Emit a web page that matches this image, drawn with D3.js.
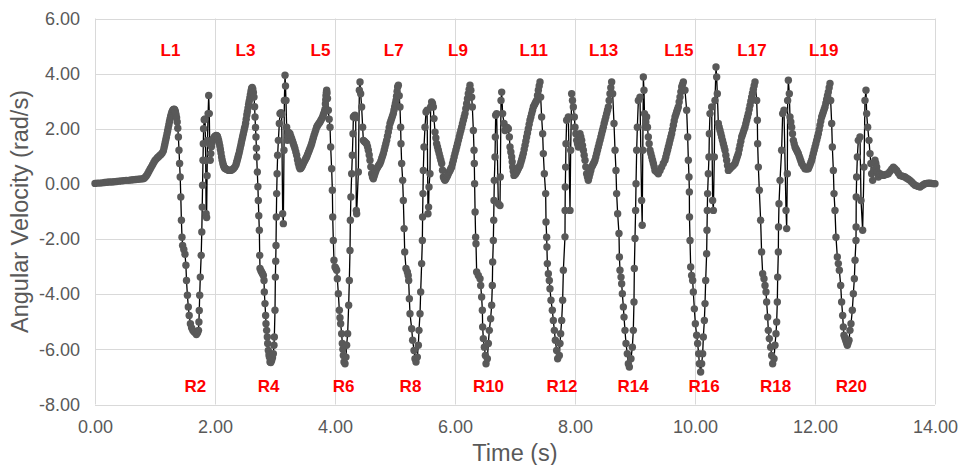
<!DOCTYPE html>
<html><head><meta charset="utf-8">
<script src="https://cdn.jsdelivr.net/npm/d3@7"></script>
<style>body{margin:0;background:#fff}svg{display:block}</style>
</head><body><svg id="chart" width="961" height="465"></svg>
<script>
// [time (s), angular velocity (rad/s)]
const angularVelocity = [
[0.00,0.02],[0.04,0.03],[0.08,0.03],[0.12,0.04],[0.16,0.05],[0.20,0.06],[0.24,0.07],[0.28,0.07],[0.32,0.08],[0.36,0.09],
[0.40,0.10],[0.44,0.11],[0.48,0.12],[0.52,0.13],[0.56,0.13],[0.60,0.14],[0.64,0.15],[0.68,0.16],[0.72,0.17],[0.76,0.18],
[0.80,0.19],[0.82,0.21],[0.84,0.25],[0.86,0.31],[0.88,0.38],[0.90,0.46],[0.92,0.54],[0.94,0.62],[0.96,0.70],[0.98,0.78],
[1.00,0.85],[1.02,0.90],[1.04,0.95],[1.06,0.99],[1.08,1.03],[1.10,1.07],[1.12,1.12],[1.14,1.20],[1.15,1.30],[1.16,1.40],
[1.17,1.50],[1.18,1.60],[1.19,1.70],[1.20,1.81],[1.21,1.92],[1.22,2.03],[1.23,2.14],[1.24,2.25],[1.25,2.35],[1.26,2.44],
[1.27,2.52],[1.28,2.59],[1.29,2.64],[1.30,2.68],[1.31,2.70],[1.32,2.71],[1.33,2.68],[1.34,2.62],[1.35,2.52],[1.36,2.40],
[1.37,2.25],[1.38,2.02],[1.39,1.70],[1.40,1.22],[1.41,0.74],[1.42,0.25],[1.43,-0.47],[1.44,-1.32],[1.45,-1.93],[1.46,-2.23],
[1.48,-2.38],[1.50,-2.55],[1.515,-2.95],[1.525,-3.50],[1.54,-4.04],[1.555,-4.46],[1.57,-4.77],[1.59,-5.07],[1.61,-5.22],[1.63,-5.31],
[1.65,-5.36],[1.67,-5.40],[1.69,-5.46],[1.71,-5.40],[1.725,-5.31],[1.732,-5.01],[1.738,-4.59],[1.745,-4.04],[1.755,-3.38],[1.77,-2.59],
[1.78,-1.74],[1.787,-0.84],[1.793,-0.05],[1.80,0.86],[1.805,1.46],[1.81,2.00],[1.82,2.33],[1.835,2.36],[1.845,0.85],[1.852,-1.08],
[1.86,-1.22],[1.868,0.30],[1.875,1.58],[1.885,2.55],[1.895,3.21],[1.905,2.55],[1.912,1.46],[1.92,0.86],[1.93,1.10],[1.94,1.35],
[1.95,1.50],[1.96,1.58],[1.97,1.62],[1.98,1.66],[1.99,1.70],[2.00,1.72],[2.01,1.74],[2.02,1.76],[2.03,1.75],[2.04,1.72],
[2.05,1.66],[2.06,1.58],[2.07,1.48],[2.08,1.38],[2.09,1.25],[2.10,1.12],[2.11,0.98],[2.12,0.86],[2.13,0.76],[2.14,0.68],
[2.15,0.62],[2.16,0.58],[2.17,0.56],[2.19,0.53],[2.21,0.51],[2.23,0.49],[2.25,0.49],[2.27,0.50],[2.29,0.52],[2.31,0.56],
[2.33,0.61],[2.35,0.70],[2.36,0.78],[2.37,0.86],[2.38,0.94],[2.39,1.02],[2.40,1.10],[2.41,1.20],[2.42,1.30],[2.43,1.40],
[2.44,1.50],[2.45,1.60],[2.46,1.70],[2.47,1.80],[2.48,1.90],[2.49,2.00],[2.50,2.08],[2.51,2.20],[2.52,2.35],[2.53,2.50],
[2.54,2.62],[2.55,2.75],[2.56,2.88],[2.57,3.00],[2.58,3.12],[2.59,3.24],[2.60,3.36],[2.61,3.46],[2.62,3.50],[2.63,3.44],
[2.64,3.32],[2.65,3.15],[2.66,2.80],[2.667,2.43],[2.675,2.05],[2.683,1.70],[2.69,1.30],[2.695,0.98],[2.705,0.43],[2.715,-0.10],
[2.722,-0.60],[2.73,-1.15],[2.739,-1.68],[2.745,-2.59],[2.75,-3.07],[2.765,-3.15],[2.778,-3.20],[2.792,-3.26],[2.806,-3.32],[2.817,-3.50],
[2.822,-3.92],[2.833,-4.34],[2.844,-4.77],[2.85,-5.07],[2.861,-5.31],[2.872,-5.55],[2.878,-5.79],[2.889,-6.04],[2.90,-6.20],[2.906,-6.28],
[2.917,-6.46],[2.93,-6.48],[2.944,-6.40],[2.958,-6.30],[2.972,-6.16],[2.983,-5.85],[2.989,-5.55],[3.00,-4.58],[3.006,-3.38],[3.012,-2.80],
[3.017,-2.23],[3.022,-1.20],[3.028,-0.35],[3.035,0.37],[3.044,1.04],[3.056,1.58],[3.072,2.19],[3.083,2.55],[3.10,2.58],[3.111,2.52],
[3.128,-1.08],[3.139,-1.44],[3.15,1.22],[3.156,3.03],[3.167,3.94],[3.175,3.55],[3.183,3.03],[3.194,2.06],[3.206,1.58],[3.214,1.75],
[3.222,1.88],[3.236,1.85],[3.25,1.82],[3.264,1.72],[3.278,1.64],[3.292,1.55],[3.306,1.46],[3.32,1.37],[3.333,1.28],[3.347,1.16],
[3.361,1.04],[3.375,0.88],[3.389,0.74],[3.403,0.62],[3.417,0.55],[3.431,0.57],[3.444,0.61],[3.458,0.67],[3.472,0.74],[3.486,0.80],
[3.50,0.86],[3.514,0.92],[3.528,0.98],[3.542,1.06],[3.557,1.14],[3.572,1.22],[3.585,1.30],[3.598,1.38],[3.611,1.46],[3.624,1.56],
[3.637,1.66],[3.65,1.76],[3.665,1.86],[3.68,1.96],[3.694,2.06],[3.708,2.11],[3.722,2.16],[3.736,2.20],[3.75,2.25],[3.765,2.31],
[3.78,2.37],[3.794,2.43],[3.805,2.50],[3.815,2.56],[3.825,2.62],[3.833,2.70],[3.84,2.90],[3.845,3.05],[3.85,3.20],[3.856,3.32],
[3.861,3.40],[3.867,3.30],[3.875,3.10],[3.889,2.67],[3.903,2.35],[3.917,2.06],[3.928,1.34],[3.944,0.55],[3.956,-0.23],[3.962,-1.20],
[3.972,-2.05],[3.983,-2.77],[4.00,-3.01],[4.014,-3.07],[4.028,-3.13],[4.039,-3.44],[4.056,-3.98],[4.072,-4.58],[4.083,-4.85],[4.094,-5.07],
[4.111,-5.43],[4.122,-5.79],[4.131,-6.00],[4.139,-6.22],[4.15,-6.46],[4.167,-6.52],[4.183,-6.28],[4.194,-5.85],[4.211,-5.43],[4.228,-4.40],
[4.239,-3.50],[4.25,-2.41],[4.256,-1.32],[4.265,-0.47],[4.278,0.37],[4.289,1.04],[4.30,1.82],[4.306,2.43],[4.322,2.47],[4.333,2.49],
[4.345,2.40],[4.355,-0.96],[4.361,-1.08],[4.389,0.43],[4.406,3.40],[4.417,3.70],[4.428,3.27],[4.444,2.79],[4.461,2.06],[4.472,1.58],
[4.486,1.55],[4.50,1.52],[4.514,1.49],[4.528,1.46],[4.542,1.35],[4.556,1.22],[4.57,1.05],[4.583,0.86],[4.597,0.62],[4.611,0.37],
[4.625,0.25],[4.639,0.19],[4.653,0.28],[4.667,0.38],[4.681,0.47],[4.694,0.55],[4.708,0.60],[4.722,0.65],[4.736,0.70],[4.75,0.74],
[4.764,0.82],[4.778,0.92],[4.792,1.01],[4.806,1.10],[4.82,1.22],[4.833,1.34],[4.847,1.46],[4.861,1.58],[4.875,1.73],[4.889,1.88],
[4.903,2.04],[4.917,2.19],[4.931,2.28],[4.944,2.37],[4.958,2.46],[4.972,2.55],[4.983,2.67],[4.994,2.79],[5.006,2.91],[5.017,3.03],
[5.026,3.18],[5.035,3.35],[5.044,3.52],[5.056,3.58],[5.07,3.20],[5.083,2.79],[5.094,2.06],[5.10,1.46],[5.111,0.74],[5.128,0.13],
[5.139,-0.60],[5.152,-1.62],[5.162,-2.47],[5.183,-3.07],[5.206,-3.19],[5.22,-3.32],[5.228,-3.50],[5.239,-4.16],[5.25,-4.71],[5.278,-5.25],
[5.294,-5.67],[5.317,-6.04],[5.333,-6.34],[5.35,-6.46],[5.372,-6.28],[5.389,-5.85],[5.40,-5.31],[5.417,-4.71],[5.428,-3.92],[5.444,-2.89],
[5.456,-2.05],[5.46,-1.20],[5.466,-0.35],[5.472,0.49],[5.483,1.34],[5.50,2.06],[5.517,2.61],[5.535,2.67],[5.55,-1.08],[5.56,-0.84],
[5.567,-0.11],[5.583,0.37],[5.594,2.79],[5.611,2.97],[5.625,2.92],[5.639,2.79],[5.65,2.37],[5.667,1.88],[5.681,1.67],[5.694,1.46],
[5.708,1.34],[5.722,1.22],[5.736,1.10],[5.75,0.98],[5.764,0.86],[5.778,0.74],[5.792,0.50],[5.806,0.25],[5.82,0.18],[5.833,0.13],
[5.847,0.18],[5.861,0.24],[5.875,0.30],[5.889,0.37],[5.903,0.43],[5.917,0.49],[5.93,0.55],[5.944,0.61],[5.958,0.73],[5.972,0.85],
[5.986,0.98],[6.00,1.10],[6.014,1.22],[6.028,1.34],[6.042,1.46],[6.056,1.58],[6.07,1.70],[6.083,1.82],[6.097,1.94],[6.111,2.06],
[6.125,2.18],[6.139,2.31],[6.153,2.43],[6.167,2.55],[6.18,2.73],[6.194,2.91],[6.208,3.09],[6.222,3.27],[6.236,3.43],[6.25,3.58],
[6.264,3.40],[6.278,3.15],[6.289,2.79],[6.306,1.94],[6.317,1.22],[6.322,0.74],[6.327,0.01],[6.335,-1.02],[6.344,-1.93],[6.35,-2.17],
[6.361,-3.19],[6.389,-3.32],[6.417,-3.44],[6.428,-3.68],[6.444,-4.10],[6.456,-4.58],[6.461,-5.19],[6.472,-5.61],[6.489,-5.92],[6.506,-6.22],
[6.517,-6.52],[6.539,-6.34],[6.556,-5.79],[6.572,-5.31],[6.594,-4.89],[6.611,-4.40],[6.622,-3.68],[6.628,-2.83],[6.639,-2.05],[6.645,-1.32],
[6.65,-0.60],[6.655,0.13],[6.667,0.98],[6.672,1.70],[6.678,2.49],[6.694,2.55],[6.722,-0.72],[6.75,-0.78],[6.755,0.25],[6.767,3.03],
[6.778,3.33],[6.794,2.55],[6.817,2.19],[6.833,1.94],[6.847,2.00],[6.861,2.06],[6.875,2.03],[6.889,2.00],[6.906,1.70],[6.917,1.34],
[6.931,1.16],[6.944,0.98],[6.953,0.80],[6.961,0.61],[6.972,0.46],[6.983,0.31],[6.997,0.34],[7.011,0.37],[7.028,0.43],[7.042,0.50],
[7.056,0.56],[7.07,0.62],[7.083,0.67],[7.097,0.78],[7.111,0.88],[7.125,0.99],[7.139,1.10],[7.153,1.25],[7.167,1.40],[7.181,1.55],
[7.194,1.70],[7.208,1.85],[7.222,2.00],[7.236,2.16],[7.25,2.31],[7.264,2.43],[7.278,2.55],[7.292,2.67],[7.306,2.79],[7.32,2.85],
[7.333,2.91],[7.347,2.97],[7.361,3.03],[7.375,3.21],[7.389,3.40],[7.403,3.55],[7.417,3.70],[7.428,3.15],[7.444,2.43],[7.461,1.82],
[7.472,1.10],[7.489,0.37],[7.511,-0.35],[7.517,-1.38],[7.528,-1.93],[7.532,-2.29],[7.539,-2.89],[7.556,-3.26],[7.572,-3.50],[7.583,-3.80],
[7.60,-4.22],[7.622,-4.58],[7.639,-4.95],[7.656,-5.31],[7.672,-5.67],[7.694,-6.04],[7.711,-6.34],[7.739,-6.22],[7.75,-5.79],[7.761,-5.43],
[7.778,-4.95],[7.794,-4.22],[7.806,-3.13],[7.833,-1.92],[7.835,-0.96],[7.838,-0.11],[7.844,0.61],[7.85,1.46],[7.861,2.31],[7.889,2.43],
[7.917,-0.96],[7.928,1.22],[7.944,3.27],[7.958,3.03],[7.972,2.79],[7.989,2.43],[8.00,2.06],[8.014,1.82],[8.028,1.58],[8.042,1.46],
[8.056,1.34],[8.07,1.58],[8.083,1.82],[8.097,1.70],[8.111,1.58],[8.125,1.40],[8.139,1.22],[8.153,1.04],[8.167,0.86],[8.18,0.62],
[8.194,0.37],[8.208,0.25],[8.222,0.13],[8.236,0.25],[8.25,0.37],[8.264,0.49],[8.278,0.61],[8.292,0.67],[8.306,0.73],[8.32,0.79],
[8.333,0.86],[8.347,0.98],[8.361,1.10],[8.375,1.22],[8.389,1.34],[8.403,1.46],[8.417,1.58],[8.431,1.70],[8.444,1.82],[8.458,1.94],
[8.472,2.06],[8.486,2.19],[8.50,2.31],[8.514,2.43],[8.528,2.55],[8.542,2.67],[8.556,2.79],[8.569,3.03],[8.583,3.27],[8.597,3.49],
[8.611,3.70],[8.628,3.27],[8.65,2.19],[8.667,1.22],[8.683,0.49],[8.694,-0.35],[8.711,-1.08],[8.733,-1.80],[8.74,-2.65],[8.75,-3.13],
[8.767,-3.38],[8.778,-3.62],[8.789,-3.98],[8.806,-4.46],[8.817,-4.83],[8.833,-5.31],[8.85,-5.79],[8.872,-6.16],[8.889,-6.52],[8.906,-6.64],
[8.933,-6.34],[8.956,-5.92],[8.972,-5.31],[8.983,-4.28],[8.989,-3.07],[9.00,-1.98],[9.01,-0.96],[9.017,0.01],[9.028,1.22],[9.039,2.06],
[9.056,3.03],[9.083,3.15],[9.11,-0.60],[9.12,-1.50],[9.13,1.22],[9.139,3.88],[9.15,3.40],[9.158,2.55],[9.167,2.06],[9.18,2.25],
[9.194,2.43],[9.208,2.06],[9.222,1.70],[9.236,1.46],[9.25,1.22],[9.264,1.10],[9.278,0.98],[9.292,0.86],[9.306,0.74],[9.32,0.62],
[9.333,0.49],[9.361,0.43],[9.389,0.37],[9.417,0.49],[9.444,0.61],[9.472,0.74],[9.50,0.86],[9.514,0.98],[9.528,1.10],[9.542,1.22],
[9.556,1.34],[9.57,1.46],[9.583,1.58],[9.597,1.70],[9.611,1.82],[9.625,1.97],[9.639,2.13],[9.653,2.28],[9.667,2.43],[9.681,2.52],
[9.694,2.61],[9.708,2.70],[9.722,2.79],[9.736,2.97],[9.75,3.15],[9.764,3.34],[9.778,3.52],[9.792,3.61],[9.806,3.70],[9.833,3.40],
[9.861,2.67],[9.878,1.70],[9.889,0.86],[9.90,0.25],[9.906,-0.29],[9.908,-1.20],[9.917,-2.05],[9.928,-3.01],[9.944,-3.32],[9.961,-3.50],
[9.972,-3.92],[9.989,-4.53],[10.006,-5.07],[10.028,-5.49],[10.044,-5.79],[10.061,-6.16],[10.072,-6.52],[10.094,-6.82],[10.111,-6.52],[10.128,-6.16],
[10.139,-5.55],[10.156,-4.95],[10.167,-4.34],[10.178,-3.50],[10.194,-2.53],[10.20,-1.68],[10.205,-0.96],[10.21,-0.35],[10.222,0.37],[10.233,0.98],
[10.239,1.82],[10.25,2.55],[10.278,2.79],[10.294,-0.60],[10.306,-0.96],[10.322,0.98],[10.333,3.03],[10.35,4.24],[10.361,3.88],[10.372,3.27],
[10.389,2.19],[10.403,2.06],[10.417,1.94],[10.431,1.82],[10.444,1.70],[10.458,1.58],[10.472,1.46],[10.486,1.34],[10.50,1.22],[10.514,1.04],
[10.528,0.86],[10.542,0.67],[10.556,0.49],[10.583,0.55],[10.611,0.61],[10.639,0.67],[10.667,0.74],[10.681,0.83],[10.694,0.92],[10.708,1.01],
[10.722,1.10],[10.736,1.25],[10.75,1.40],[10.764,1.55],[10.778,1.70],[10.792,1.79],[10.806,1.88],[10.819,1.97],[10.833,2.06],[10.847,2.18],
[10.861,2.31],[10.875,2.43],[10.889,2.55],[10.903,2.70],[10.917,2.85],[10.931,3.00],[10.944,3.15],[10.958,3.29],[10.972,3.43],[10.986,3.56],
[11.00,3.70],[11.028,3.03],[11.039,2.31],[11.044,1.46],[11.056,0.61],[11.072,-0.23],[11.094,-1.32],[11.11,-2.47],[11.128,-3.26],[11.15,-3.44],
[11.167,-3.68],[11.183,-3.92],[11.194,-4.28],[11.211,-4.83],[11.222,-5.31],[11.239,-5.61],[11.261,-5.92],[11.278,-6.22],[11.294,-6.52],[11.317,-6.34],
[11.333,-5.85],[11.35,-5.43],[11.361,-5.01],[11.372,-4.28],[11.378,-3.38],[11.389,-2.47],[11.392,-1.56],[11.40,-0.72],[11.417,0.13],[11.444,1.22],
[11.461,2.55],[11.483,2.67],[11.517,-0.96],[11.528,-1.62],[11.539,0.37],[11.544,3.03],[11.556,3.76],[11.572,3.27],[11.583,2.43],[11.597,2.25],
[11.611,2.06],[11.625,1.82],[11.639,1.58],[11.653,1.46],[11.667,1.34],[11.681,1.28],[11.694,1.22],[11.708,1.16],[11.722,1.10],[11.736,1.01],
[11.75,0.92],[11.764,0.83],[11.778,0.74],[11.806,0.64],[11.833,0.55],[11.861,0.54],[11.889,0.55],[11.903,0.62],[11.917,0.70],[11.931,0.78],
[11.944,0.86],[11.958,0.98],[11.972,1.10],[11.986,1.22],[12.00,1.34],[12.014,1.46],[12.028,1.58],[12.042,1.70],[12.056,1.82],[12.07,1.97],
[12.083,2.13],[12.097,2.28],[12.111,2.43],[12.125,2.52],[12.139,2.61],[12.153,2.70],[12.167,2.79],[12.181,2.93],[12.194,3.06],[12.208,3.20],
[12.222,3.33],[12.236,3.49],[12.25,3.64],[12.261,3.03],[12.278,2.19],[12.289,1.34],[12.306,0.49],[12.317,-0.35],[12.333,-0.96],[12.35,-1.93],
[12.372,-2.65],[12.389,-2.89],[12.406,-3.13],[12.428,-3.68],[12.444,-4.28],[12.461,-4.77],[12.472,-5.19],[12.483,-5.49],[12.497,-5.58],[12.511,-5.67],
[12.525,-5.76],[12.539,-5.85],[12.553,-5.76],[12.567,-5.67],[12.583,-5.31],[12.60,-5.07],[12.622,-4.58],[12.639,-3.98],[12.656,-3.44],[12.667,-2.77],
[12.683,-2.05],[12.685,-1.56],[12.687,-0.47],[12.694,0.25],[12.706,0.98],[12.722,1.58],[12.75,1.70],[12.767,-0.60],[12.794,-1.68],[12.817,0.61],
[12.833,3.03],[12.85,3.40],[12.861,2.55],[12.878,2.06],[12.90,1.58],[12.917,1.10],[12.931,0.74],[12.944,0.37],[12.961,0.13],[12.98,0.50],
[13.00,0.86],[13.014,0.74],[13.028,0.61],[13.042,0.43],[13.056,0.25],[13.07,0.31],[13.083,0.37],[13.111,0.34],[13.139,0.31],[13.167,0.33],
[13.194,0.35],[13.222,0.37],[13.25,0.45],[13.278,0.53],[13.306,0.61],[13.333,0.55],[13.361,0.49],[13.389,0.40],[13.417,0.31],[13.444,0.29],
[13.472,0.27],[13.50,0.25],[13.528,0.21],[13.556,0.17],[13.583,0.13],[13.611,0.07],[13.639,0.01],[13.667,-0.05],[13.694,-0.07],[13.722,-0.09],
[13.75,-0.11],[13.778,-0.07],[13.806,-0.03],[13.833,0.01],[13.861,0.02],[13.889,0.03],[13.917,0.03],[13.944,0.02],[13.972,0.01],[14.00,0.01]
];

const xTicks = [0, 2, 4, 6, 8, 10, 12, 14];
const yTicks = [-8, -6, -4, -2, 0, 2, 4, 6];

const leftLabels = ["L1","L3","L5","L7","L9","L11","L13","L15","L17","L19"];
const leftLabelTimes = [1.258, 2.508, 3.758, 4.978, 6.05, 7.313, 8.478, 9.73, 10.95, 12.145];
const leftLabelValue = 4.63;
const rightLabels = ["R2","R4","R6","R8","R10","R12","R14","R16","R18","R20"];
const rightLabelTimes = [1.672, 2.895, 4.145, 5.258, 6.558, 7.783, 8.967, 10.153, 11.342, 12.605];
const rightLabelValue = -7.55;

const xTitle = "Time (s)";
const yTitle = "Angular Velocity (rad/s)";

const svg = d3.select("#chart");
const font = "'Liberation Sans', Arial, sans-serif";
const grey = "#595959";

const x = d3.scaleLinear().domain([0, 14]).range([95, 935]);
const y = d3.scaleLinear().domain([-8, 6]).range([404.5, 18.5]);

// gridlines
const grid = svg.append("g").attr("stroke", "#d9d9d9").attr("stroke-width", 1);
grid.selectAll("line.h").data(yTicks).join("line").attr("class","h")
  .attr("x1", x(0)).attr("x2", x(14))
  .attr("y1", d => Math.round(y(d)) + 0.5).attr("y2", d => Math.round(y(d)) + 0.5);
grid.selectAll("line.v").data(xTicks).join("line").attr("class","v")
  .attr("y1", y(6)).attr("y2", y(-8))
  .attr("x1", d => Math.round(x(d)) + 0.5).attr("x2", d => Math.round(x(d)) + 0.5);

// axes (hyphen-minus like the reference)
const fmt = d => d.toFixed(2);
const yAxis = svg.append("g").attr("transform", `translate(${x(0)},0)`)
  .call(d3.axisLeft(y).tickValues(yTicks).tickFormat(fmt).tickSize(0).tickPadding(15));
const xAxis = svg.append("g").attr("transform", `translate(0,${y(-8)})`)
  .call(d3.axisBottom(x).tickValues(xTicks).tickFormat(fmt).tickSize(0).tickPadding(16));
[yAxis, xAxis].forEach(a => {
  a.select(".domain").remove();
  a.selectAll("text").attr("fill", grey).style("font-family", font).style("font-size", "18px");
});

// axis titles
svg.append("text").attr("x", (x(0) + x(14)) / 2).attr("y", 461)
  .attr("text-anchor", "middle").attr("fill", grey)
  .style("font-family", font).style("font-size", "23.5px").text(xTitle);
svg.append("text").attr("transform", `translate(28,${(y(6) + y(-8)) / 2}) rotate(-90)`)
  .attr("text-anchor", "middle").attr("fill", grey)
  .style("font-family", font).style("font-size", "23.5px").text(yTitle);

// series line + markers
const line = d3.line().x(d => x(d[0])).y(d => y(d[1]));
svg.append("path").datum(angularVelocity).attr("d", line)
  .attr("fill", "none").attr("stroke", "#000").attr("stroke-width", 1.3).attr("stroke-linejoin", "round");
svg.append("g").selectAll("circle").data(angularVelocity).join("circle")
  .attr("cx", d => x(d[0])).attr("cy", d => y(d[1])).attr("r", 3.7).attr("fill", grey);

// step labels
const lab = svg.append("g").attr("fill", "#ff0000").attr("text-anchor", "middle")
  .style("font-family", font).style("font-size", "17px").style("font-weight", "bold");
lab.selectAll("text.l").data(leftLabels).join("text").attr("class","l")
  .attr("x", (d, i) => x(leftLabelTimes[i])).attr("y", y(leftLabelValue)).text(d => d);
lab.selectAll("text.r").data(rightLabels).join("text").attr("class","r")
  .attr("x", (d, i) => x(rightLabelTimes[i])).attr("y", y(rightLabelValue)).text(d => d);
</script>
</body></html>
